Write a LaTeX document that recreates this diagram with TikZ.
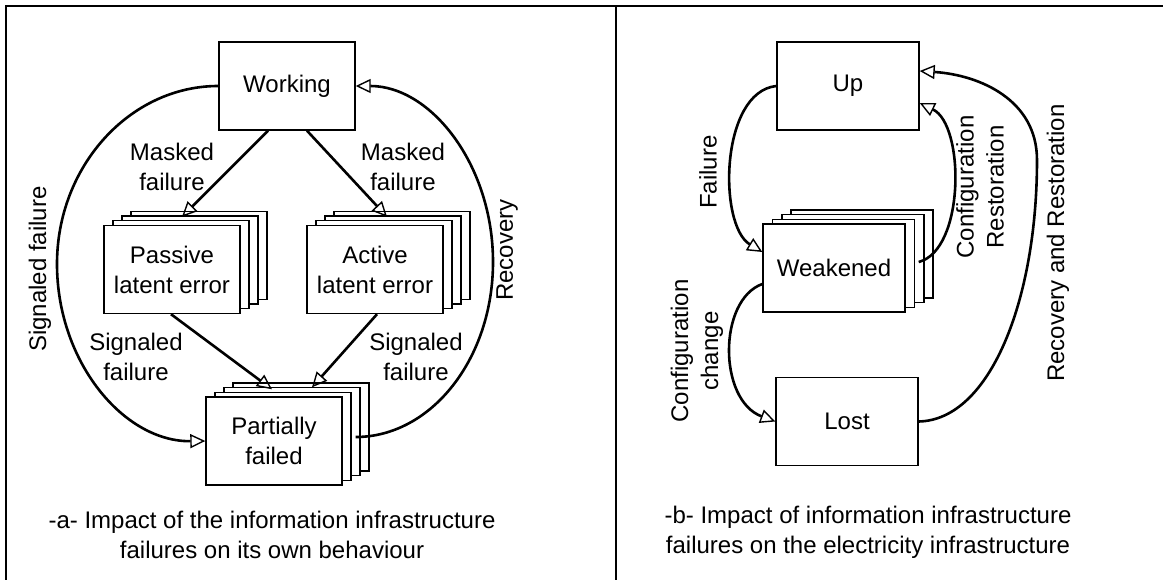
\documentclass[tikz,border=0pt]{standalone}
\usepackage{fontspec}
\setmainfont{Liberation Sans}
\usetikzlibrary{arrows.meta,calc}
\begin{document}
\begin{tikzpicture}[x=1pt,y=-1pt,
  font=\fontsize{24}{30}\selectfont,
  card/.style={draw, fill=white, line width=1.4pt, minimum width=136pt, minimum height=88pt, inner sep=0pt, align=center},
  cardb/.style={card, minimum width=142pt},
  lbl/.style={align=center, inner sep=0pt},
  arr/.style={line width=2.6pt, -{Triangle[open, length=15pt, width=14pt, line width=1.4pt]}},
  frame/.style={line width=2.2pt}]
\useasboundingbox (0,0) rectangle (1163,580);
\draw[frame] (6,580) -- (6,6) -- (1163,6);
\draw[frame] (616,6) -- (616,580);

% ---------- panel a ----------
\node[card] (work) at (287,86) {Working};

\node[card] (pas3) at (199,255.5) {};
\node[card] (pas2) at (190,260.2) {};
\node[card] (pas1) at (181,264.8) {};
\node[card] (pas) at (172,269.5) {Passive\\latent error};

\node[card] (act3) at (402,255.5) {};
\node[card] (act2) at (393,260.2) {};
\node[card] (act1) at (384,264.8) {};
\node[card] (act) at (375,269.5) {Active\\latent error};

\node[card] (pf3) at (301,427) {};
\node[card] (pf2) at (292,431.7) {};
\node[card] (pf1) at (283,436.3) {};
\node[card] (pf) at (274,441) {Partially\\failed};

\draw[arr] ([xshift=-19pt]work.south) -- ([xshift=10pt,yshift=8pt]pas.north);
\draw[arr] ([xshift=20pt]work.south) -- ([xshift=12pt,yshift=8pt]act.north);
\draw[arr] ([xshift=-1pt]pas.south) -- ([xshift=-2pt,yshift=7pt]pf.north);
\draw[arr] ([xshift=2pt]act.south) -- ([xshift=38pt,yshift=9pt]pf.north);

\draw[arr] (work.west) .. controls (130,86) and (57,166) .. (57,264)
  .. controls (57,362) and (124,442) .. (pf.west);
\draw[arr] ([xshift=13pt,yshift=4pt]pf.east) .. controls (431,437) and (493,359) .. (493,262)
  .. controls (493,165) and (431,86) .. (work.east);

\node[lbl] (l1) at (172,167) {Masked\\failure};
\node[lbl] (l2) at (403,167) {Masked\\failure};
\node[lbl] (l3) at (136,357) {Signaled\\failure};
\node[lbl] (l4) at (416,357) {Signaled\\failure};
\node[lbl, rotate=90] (l5) at (40,269) {Signaled failure};
\node[lbl, rotate=90] (l6) at (507,250) {Recovery};
\node[lbl] (capa) at (272,535) {-a- Impact of the information infrastructure\\failures on its own behaviour};

% ---------- panel b ----------
\node[cardb] (up) at (848,86) {Up};

\node[cardb] (wk3) at (862,254) {};
\node[cardb] (wk2) at (853,258.7) {};
\node[cardb] (wk1) at (843.5,263.3) {};
\node[cardb] (wk) at (834,268) {Weakened};

\node[cardb] (lost) at (847,421.5) {Lost};

\draw[arr] (up.west) .. controls (720,92) and (718,225) .. ([yshift=16pt]wk.west);
\draw[arr] ([yshift=-16pt]wk.west) .. controls (718,300) and (718,400) .. (lost.west);
\draw[arr] ([xshift=13pt,yshift=6pt]wk.east) .. controls (965,250) and (965,125) .. ([yshift=-17pt]up.east);
\draw[arr] (lost.east) .. controls (990,420) and (1037,300) .. (1037,160)
  .. controls (1037,100) and (980,75) .. ([yshift=15pt]up.east);

\node[lbl, rotate=90] (r1) at (708,172) {Failure};
\node[lbl, rotate=90] (r2) at (697,351) {Configuration\\change};
\node[lbl, rotate=90] (r3) at (980,187) {Configuration\\Restoration};
\node[lbl, rotate=90] (r4) at (1058,243) {Recovery and Restoration};
\node[lbl] (capb) at (868,532) {-b- Impact of information infrastructure\\failures on the electricity infrastructure};
\end{tikzpicture}
\end{document}
